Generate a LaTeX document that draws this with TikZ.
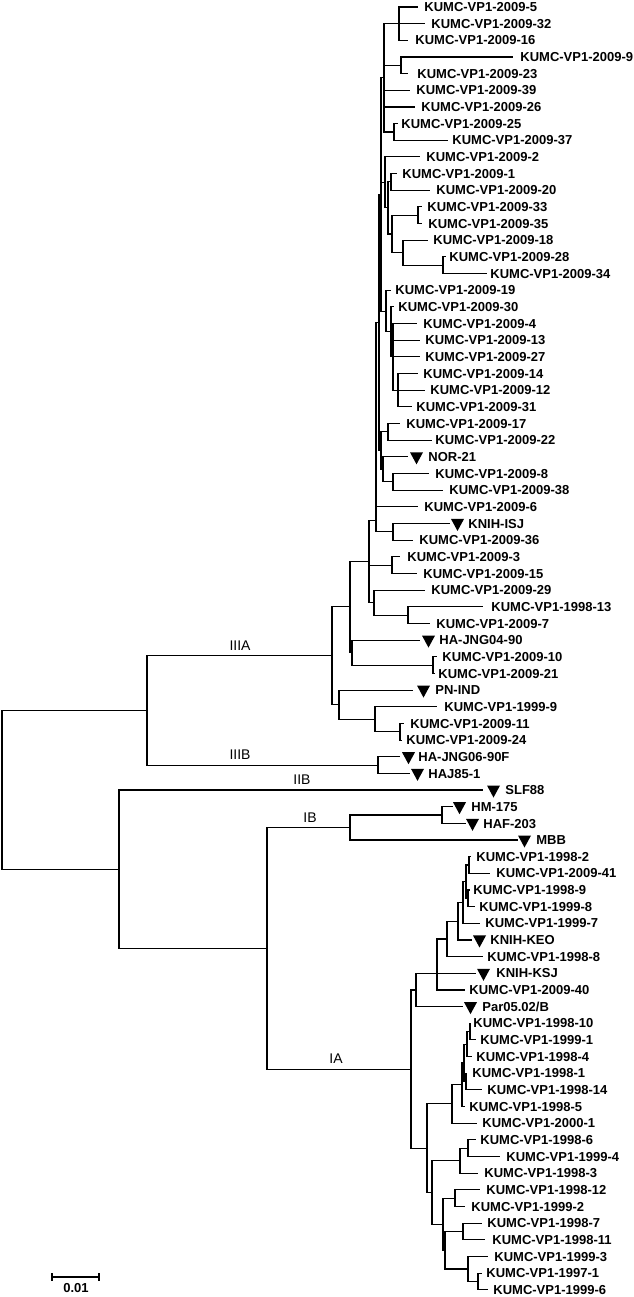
\documentclass[tikz,border=0pt]{standalone}
\usepackage{fontspec}
\setmainfont{Liberation Sans}
\newcommand\mkleaf[6]{\coordinate (#1) at (#4,#3); \draw[br] (#2) |- (#1); \node[lbl] (#1t) at (#5,#3) {#6};}
\newcommand\mktleaf[7]{\coordinate (#1) at (#4,#3); \draw[br] (#2) |- (#1); \fill (#5,#3) ++(0,2.25pt) -- ++(6.5pt,0) -- ++(-3.25pt,-6pt) -- cycle; \node[lbl] (#1t) at (#6,#3) {#7};}
\newcommand\mkedge[2]{\draw[br] (#1) |- (#2);}
\begin{document}
\begin{tikzpicture}[x=0.5pt,y=-8.33pt,
  br/.style={line width=0.55pt, black},
  lbl/.style={anchor=west, inner sep=0pt, text height=4.65pt, text depth=0pt, font=\fontsize{6.5}{7}\selectfont\bfseries},
  clade/.style={anchor=south, inner sep=0pt, yshift=2.4pt, font=\fontsize{7}{8}\selectfont}]
\useasboundingbox (0,0.58) rectangle (633,78.43);
% internal nodes
\coordinate (gA1) at (399,2);
\coordinate (gA2) at (401,4.5);
\coordinate (gA3) at (394,8.5);
\coordinate (G1) at (384,5.25);
\coordinate (g11) at (391,11.5);
\coordinate (g13) at (418,13.5);
\coordinate (g16) at (443,16.5);
\coordinate (g15) at (403,15.75);
\coordinate (g1317) at (392,14.625);
\coordinate (N10) at (388,13.06);
\coordinate (G2) at (385,11.53);
\coordinate (g23) at (398,24);
\coordinate (g20) at (393,22);
\coordinate (g19) at (391,20.5);
\coordinate (G3) at (386,19.25);
\coordinate (H) at (381,12.25);
\coordinate (g26) at (388,26.5);
\coordinate (g29) at (393,29.5);
\coordinate (gNOR) at (383,28.75);
\coordinate (J) at (381,27.625);
\coordinate (I) at (379,19.94);
\coordinate (g32) at (393,32.5);
\coordinate (K) at (376,31.8);
\coordinate (g34) at (392,34.5);
\coordinate (g37) at (408,37.5);
\coordinate (g36) at (374,36.75);
\coordinate (T3) at (369,34.27);
\coordinate (g40) at (433,40.5);
\coordinate (C) at (352,39.75);
\coordinate (A) at (350,37.0);
\coordinate (g44) at (400,44.5);
\coordinate (g43) at (375,43.75);
\coordinate (D) at (339,42.875);
\coordinate (IIIA) at (332,39.94);
\coordinate (IIIB) at (378,46.5);
\coordinate (III) at (147,43.22);
\coordinate (g49) at (442,49.5);
\coordinate (IB) at (350,50.25);
\coordinate (g52) at (469,52.5);
\coordinate (g54) at (468,54.5);
\coordinate (U6) at (466,53.5);
\coordinate (U5) at (463,54.75);
\coordinate (U4) at (458,55.875);
\coordinate (U3) at (447,56.94);
\coordinate (U2) at (437,59);
\coordinate (U1) at (416,60);
\coordinate (P1) at (470,62.5);
\coordinate (P2) at (467,63.25);
\coordinate (P3) at (466,65.5);
\coordinate (P4) at (464,64.375);
\coordinate (P5) at (462,65.69);
\coordinate (L2) at (452,66.84);
\coordinate (g69) at (468,69.5);
\coordinate (M4) at (460,70.25);
\coordinate (g72) at (455,72.5);
\coordinate (g74) at (463,74.5);
\coordinate (g77) at (478,77.5);
\coordinate (g76) at (468,76.75);
\coordinate (N) at (445,75.625);
\coordinate (M3) at (443,74.06);
\coordinate (M5) at (432,72.16);
\coordinate (L1) at (427,69.5);
\coordinate (IA) at (411,64.75);
\coordinate (In) at (267,57.5);
\coordinate (II) at (119,52.75);
\coordinate (root) at (2,47.98);
% internal edges
\mkedge{root}{III} \mkedge{root}{II}
\mkedge{III}{IIIA} \mkedge{III}{IIIB}
\mkedge{IIIA}{A} \mkedge{IIIA}{D}
\mkedge{A}{T3} \mkedge{A}{C}
\mkedge{T3}{K} \mkedge{T3}{g34} \mkedge{T3}{g36}
\mkedge{K}{I} \mkedge{K}{g32}
\mkedge{I}{H} \mkedge{I}{J}
\mkedge{H}{G1} \mkedge{H}{G2} \mkedge{H}{G3}
\mkedge{G1}{gA1} \mkedge{G1}{gA2} \mkedge{G1}{gA3}
\mkedge{G2}{N10} \mkedge{N10}{g11} \mkedge{N10}{g1317}
\mkedge{g1317}{g13} \mkedge{g1317}{g15} \mkedge{g15}{g16}
\mkedge{G3}{g19} \mkedge{g19}{g20} \mkedge{g20}{g23}
\mkedge{J}{g26} \mkedge{J}{gNOR} \mkedge{gNOR}{g29}
\mkedge{g36}{g37}
\mkedge{C}{g40}
\mkedge{D}{g43} \mkedge{g43}{g44}
\mkedge{II}{In}
\mkedge{In}{IB} \mkedge{In}{IA}
\mkedge{IB}{g49}
\mkedge{IA}{U1} \mkedge{IA}{L1}
\mkedge{U1}{U2} \mkedge{U2}{U3} \mkedge{U3}{U4} \mkedge{U4}{U5} \mkedge{U5}{U6}
\mkedge{U6}{g52} \mkedge{U6}{g54}
\mkedge{L1}{L2} \mkedge{L1}{M5}
\mkedge{L2}{P5} \mkedge{P5}{P4} \mkedge{P4}{P2} \mkedge{P4}{P3} \mkedge{P2}{P1}
\mkedge{M5}{M4} \mkedge{M5}{M3} \mkedge{M4}{g69}
\mkedge{M3}{g72} \mkedge{M3}{N} \mkedge{N}{g74} \mkedge{N}{g76} \mkedge{g76}{g77}
% leaves
\mkleaf{l1}{gA1}{1}{418}{424}{KUMC-VP1-2009-5}
\mkleaf{l2}{gA1}{2}{425}{431}{KUMC-VP1-2009-32}
\mkleaf{l3}{gA1}{3}{408}{415}{KUMC-VP1-2009-16}
\mkleaf{l4}{gA2}{4}{513}{520}{KUMC-VP1-2009-9}
\mkleaf{l5}{gA2}{5}{408}{417}{KUMC-VP1-2009-23}
\mkleaf{l6}{G1}{6}{410}{416}{KUMC-VP1-2009-39}
\mkleaf{l7}{G1}{7}{415}{421}{KUMC-VP1-2009-26}
\mkleaf{l8}{gA3}{8}{398}{401}{KUMC-VP1-2009-25}
\mkleaf{l9}{gA3}{9}{448}{452}{KUMC-VP1-2009-37}
\mkleaf{l10}{G2}{10}{420}{426}{KUMC-VP1-2009-2}
\mkleaf{l11}{g11}{11}{397}{402}{KUMC-VP1-2009-1}
\mkleaf{l12}{g11}{12}{430}{436}{KUMC-VP1-2009-20}
\mkleaf{l13}{g13}{13}{422}{427}{KUMC-VP1-2009-33}
\mkleaf{l14}{g13}{14}{422}{428}{KUMC-VP1-2009-35}
\mkleaf{l15}{g15}{15}{428}{433}{KUMC-VP1-2009-18}
\mkleaf{l16}{g16}{16}{446}{449}{KUMC-VP1-2009-28}
\mkleaf{l17}{g16}{17}{487}{490}{KUMC-VP1-2009-34}
\mkleaf{l18}{G3}{18}{391}{395}{KUMC-VP1-2009-19}
\mkleaf{l19}{g19}{19}{394}{398}{KUMC-VP1-2009-30}
\mkleaf{l20}{g20}{20}{417}{423}{KUMC-VP1-2009-4}
\mkleaf{l21}{g20}{21}{420}{425}{KUMC-VP1-2009-13}
\mkleaf{l22}{g20}{22}{420}{425}{KUMC-VP1-2009-27}
\mkleaf{l23}{g23}{23}{418}{423}{KUMC-VP1-2009-14}
\mkleaf{l24}{g23}{24}{425}{430}{KUMC-VP1-2009-12}
\mkleaf{l25}{g23}{25}{412}{416}{KUMC-VP1-2009-31}
\mkleaf{l26}{g26}{26}{400}{406}{KUMC-VP1-2009-17}
\mkleaf{l27}{g26}{27}{432}{435}{KUMC-VP1-2009-22}
\mktleaf{l28}{gNOR}{28}{408}{410}{428}{NOR-21}
\mkleaf{l29}{g29}{29}{429}{435}{KUMC-VP1-2009-8}
\mkleaf{l30}{g29}{30}{443}{449}{KUMC-VP1-2009-38}
\mkleaf{l31}{K}{31}{418}{424}{KUMC-VP1-2009-6}
\mktleaf{l32}{g32}{32}{450}{451}{468}{KNIH-ISJ}
\mkleaf{l33}{g32}{33}{413}{419}{KUMC-VP1-2009-36}
\mkleaf{l34}{g34}{34}{400}{407}{KUMC-VP1-2009-3}
\mkleaf{l35}{g34}{35}{417}{423}{KUMC-VP1-2009-15}
\mkleaf{l36}{g36}{36}{425}{431}{KUMC-VP1-2009-29}
\mkleaf{l37}{g37}{37}{483}{491}{KUMC-VP1-1998-13}
\mkleaf{l38}{g37}{38}{430}{436}{KUMC-VP1-2009-7}
\mktleaf{l39}{C}{39}{420}{422}{439}{HA-JNG04-90}
\mkleaf{l40}{g40}{40}{437}{442}{KUMC-VP1-2009-10}
\mkleaf{l41}{g40}{41}{435}{438}{KUMC-VP1-2009-21}
\mktleaf{l42}{D}{42}{413}{417}{435}{PN-IND}
\mkleaf{l43}{g43}{43}{437}{444}{KUMC-VP1-1999-9}
\mkleaf{l44}{g44}{44}{404}{410}{KUMC-VP1-2009-11}
\mkleaf{l45}{g44}{45}{402}{406}{KUMC-VP1-2009-24}
\mktleaf{l46}{IIIB}{46}{400}{402}{418}{HA-JNG06-90F}
\mktleaf{l47}{IIIB}{47}{410}{411}{428}{HAJ85-1}
\mktleaf{l48}{II}{48}{483}{487}{505}{SLF88}
\mktleaf{l49}{g49}{49}{453}{453}{471}{HM-175}
\mktleaf{l50}{g49}{50}{466}{466}{483}{HAF-203}
\mktleaf{l51}{IB}{51}{518}{518}{536}{MBB}
\mkleaf{l52}{g52}{52}{471}{476}{KUMC-VP1-1998-2}
\mkleaf{l53}{g52}{53}{490}{496}{KUMC-VP1-2009-41}
\mkleaf{l54}{g54}{54}{470}{473}{KUMC-VP1-1998-9}
\mkleaf{l55}{g54}{55}{475}{479}{KUMC-VP1-1999-8}
\mkleaf{l56}{U5}{56}{480}{485}{KUMC-VP1-1999-7}
\mktleaf{l57}{U4}{57}{472}{473}{490}{KNIH-KEO}
\mkleaf{l58}{U3}{58}{483}{487}{KUMC-VP1-1998-8}
\mktleaf{l59}{U2}{59}{476}{477}{496}{KNIH-KSJ}
\mkleaf{l60}{U2}{60}{465}{469}{KUMC-VP1-2009-40}
\mktleaf{l61}{U1}{61}{463}{464}{482}{Par05.02/B}
\mkleaf{l62}{P1}{62}{471}{473}{KUMC-VP1-1998-10}
\mkleaf{l63}{P1}{63}{476}{480}{KUMC-VP1-1999-1}
\mkleaf{l64}{P2}{64}{472}{476}{KUMC-VP1-1998-4}
\mkleaf{l65}{P3}{65}{467}{472}{KUMC-VP1-1998-1}
\mkleaf{l66}{P3}{66}{482}{487}{KUMC-VP1-1998-14}
\mkleaf{l67}{P5}{67}{465}{469}{KUMC-VP1-1998-5}
\mkleaf{l68}{L2}{68}{477}{482}{KUMC-VP1-2000-1}
\mkleaf{l69}{g69}{69}{476}{480}{KUMC-VP1-1998-6}
\mkleaf{l70}{g69}{70}{500}{506}{KUMC-VP1-1999-4}
\mkleaf{l71}{M4}{71}{478}{484}{KUMC-VP1-1998-3}
\mkleaf{l72}{g72}{72}{480}{486}{KUMC-VP1-1998-12}
\mkleaf{l73}{g72}{73}{465}{471}{KUMC-VP1-1999-2}
\mkleaf{l74}{g74}{74}{482}{487}{KUMC-VP1-1998-7}
\mkleaf{l75}{g74}{75}{485}{492}{KUMC-VP1-1998-11}
\mkleaf{l76}{g76}{76}{488}{494}{KUMC-VP1-1999-3}
\mkleaf{l77}{g77}{77}{482}{486}{KUMC-VP1-1997-1}
\mkleaf{l78}{g77}{78}{488}{493}{KUMC-VP1-1999-6}
% clade labels
\node[clade] (cIIIA) at (240,39.94) {IIIA};
\node[clade] (cIIIB) at (240,46.5) {IIIB};
\node[clade] (cIIB) at (302,48) {IIB};
\node[clade] (cIB) at (310,50.25) {IB};
\node[clade] (cIA) at (336,64.75) {IA};
% scale bar
\coordinate (sbl) at (52,77.23);
\coordinate (sbr) at (99,77.23);
\draw[line width=1pt] (sbl) -- (sbr);
\draw[line width=1pt] ([yshift=2pt]sbl) -- ([yshift=-2pt]sbl);
\draw[line width=1pt] ([yshift=2pt]sbr) -- ([yshift=-2pt]sbr);
\node[inner sep=0pt, text height=4.65pt, text depth=0pt, font=\fontsize{6.5}{7}\selectfont\bfseries] (sbt) at (76,77.89) {0.01};
\end{tikzpicture}
\end{document}
